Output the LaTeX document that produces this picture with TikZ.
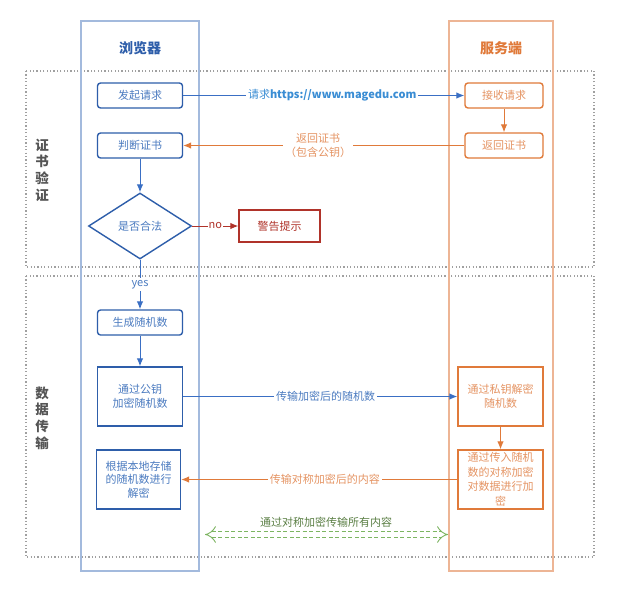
\documentclass[tikz,border=0pt]{standalone}
\usepackage{fontspec}
\setmainfont{Noto Sans CJK SC}
\usetikzlibrary{shapes.geometric,arrows.meta}
\definecolor{bluedark}{HTML}{2E5EAA}
\definecolor{bluetext}{HTML}{4B7BC0}
\definecolor{laneblue}{HTML}{A3BADD}
\definecolor{linkblue}{HTML}{3A8DD4}
\definecolor{arrowblue}{HTML}{3A6FC4}
\definecolor{orangedark}{HTML}{E07A3A}
\definecolor{orangetext}{HTML}{E59463}
\definecolor{laneorange}{HTML}{EDB595}
\definecolor{warnred}{HTML}{B0332A}
\definecolor{labelgray}{HTML}{555555}
\definecolor{dotgray}{HTML}{A0A0A0}
\definecolor{greenline}{HTML}{7DB562}
\definecolor{greentext}{HTML}{5B7F45}
\tikzset{
  txt/.style={font=\fontsize{11}{13.5}\selectfont, align=center, inner sep=0pt},
  bbox/.style={txt, draw=bluedark, line width=1.4pt, text=bluetext},
  bround/.style={bbox, rounded corners=3pt},
  obox/.style={txt, draw=orangedark, line width=1.4pt, text=orangetext},
  oround/.style={obox, rounded corners=3pt},
  lane/.style={line width=1.1pt},
  section/.style={draw=dotgray, line width=1.2pt, dash pattern=on 1.2pt off 2.2pt},
  barrow/.style={draw=arrowblue, line width=1pt, -{Latex[length=8pt,width=6.5pt]}},
  oarrow/.style={draw=orangedark, line width=1pt, -{Latex[length=8pt,width=6.5pt]}},
  rarrow/.style={draw=warnred, line width=1pt, -{Latex[length=8pt,width=6.5pt]}},
  lbl/.style={txt, fill=white, inner sep=2pt},
  title/.style={font=\fontsize{14}{16}\selectfont\bfseries, inner sep=0pt},
  seclbl/.style={font=\fontsize{13.5}{16.7}\selectfont\bfseries, text=labelgray, align=center, inner sep=0pt}
}
\begin{document}
\begin{tikzpicture}[x=1pt,y=-1pt]
\useasboundingbox[fill=white] (0,0) rectangle (617,592);
% section boxes
\draw[section] (26,71) rectangle (594,267);
\draw[section] (26,276) rectangle (594,557);
% lanes
\draw[lane, draw=laneblue] (81,21) rectangle (199,571);
\draw[lane, draw=laneorange] (449,21) rectangle (553,571);
\node[title, text=bluedark] (tb) at (140,48) {浏览器};
\node[title, text=orangedark] (ts) at (501,48) {服务端};
\node[seclbl] (sec1) at (42,170) {证\\书\\验\\证};
\node[seclbl] (sec2) at (42,418) {数\\据\\传\\输};
% browser nodes
\node[bround, minimum width=85pt, minimum height=25pt] (b1) at (140,95.5) {发起请求};
\node[bround, minimum width=85pt, minimum height=25pt] (b2) at (140,145.5) {判断证书};
\node[txt, diamond, draw=bluedark, line width=1.4pt, text=bluetext, minimum width=103pt, minimum height=66pt] (dia) at (140,226) {是否合法};
\node[txt, draw=warnred, line width=1.4pt, text=warnred, minimum width=81pt, minimum height=32pt] (warn) at (279.5,226) {警告提示};
\node[bround, minimum width=85pt, minimum height=25pt] (b3) at (140,322.5) {生成随机数};
\node[bbox, minimum width=85pt, minimum height=59pt] (b4) at (140,396.5) {通过公钥\\加密随机数};
\node[bbox, minimum width=84pt, minimum height=59pt] (b5) at (138.5,479.5) {根据本地存储\\的随机数进行\\解密};
% server nodes
\node[oround, minimum width=78pt, minimum height=25pt] (s1) at (504,95.5) {接收请求};
\node[oround, minimum width=78pt, minimum height=25pt] (s2) at (504,145.5) {返回证书};
\node[obox, minimum width=85pt, minimum height=59pt] (s3) at (500.5,396.5) {通过私钥解密\\随机数};
\node[obox, minimum width=85pt, minimum height=59pt, font=\fontsize{11}{14.5}\selectfont] (s4) at (500.5,479.5) {通过传入随机\\数的对称加密\\对数据进行加\\密};
% connectors
\draw[barrow] (b1) -- node[lbl, pos=0.53, text=linkblue] {请求\textbf{https://www.magedu.com}} (s1);
\draw[oarrow] (s1) -- (s2);
\draw[oarrow] (s2) -- node[lbl, pos=0.52, text=orangetext] {返回证书\\（包含公钥）} (b2);
\draw[barrow] (b2) -- (dia);
\draw[rarrow] (dia) -- node[lbl, inner sep=1pt, text=warnred] {no} (warn);
\draw[barrow] (dia) -- node[lbl, text=bluetext] {yes} (b3);
\draw[barrow] (b3) -- (b4);
\draw[barrow] (b4) -- node[lbl, pos=0.52, text=bluetext] {传输加密后的随机数} (s3);
\draw[oarrow] (s3) -- (s4);
\draw[oarrow] (s4) -- node[lbl, pos=0.48, text=orangetext] {传输对称加密后的内容} (b5);
% symmetric channel
\coordinate (gl) at (205,534.5);
\coordinate (gr) at (448,534.5);
\draw[draw=greenline, line width=0.9pt, double=white, double distance=5pt, dash pattern=on 4pt off 2.5pt, {Implies}-{Implies}] (gl) -- (gr);
\node[txt, text=greentext] (glbl) at (326,522) {通过对称加密传输所有内容};
\end{tikzpicture}
\end{document}
